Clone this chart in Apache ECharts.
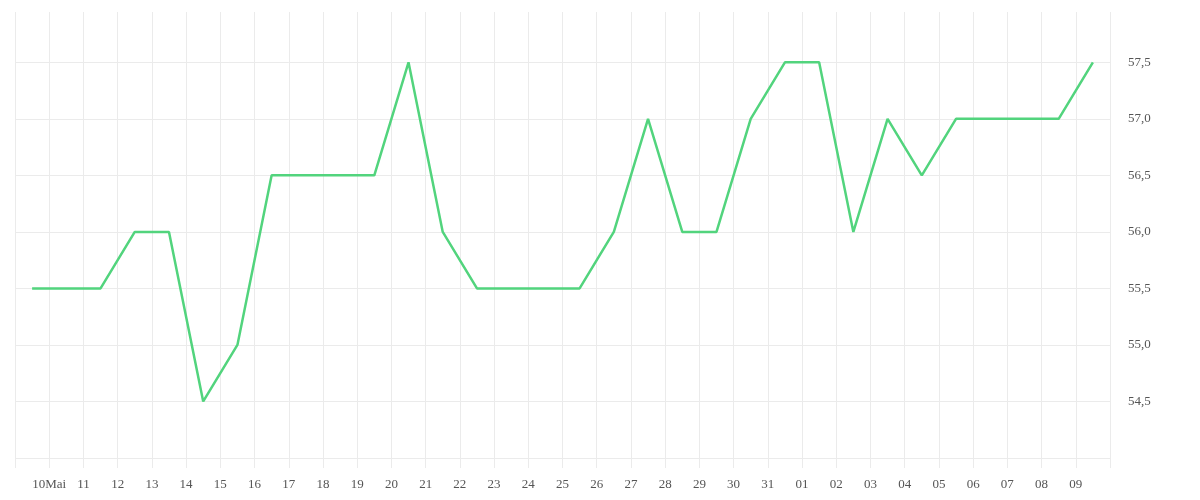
<!DOCTYPE html>
<html>
<head>
<meta charset="utf-8">
<script src="https://cdn.jsdelivr.net/npm/echarts@6/dist/echarts.min.js"></script>
<style>html,body{margin:0;padding:0;background:#fff}#c{width:1200px;height:500px}</style>
</head>
<body>
<div id="c"></div>
<script>
// Tick labels at day boundaries (09 Mai ... 10 Jun); first and last unlabeled
const tickLabels = ["", "10Mai", "11", "12", "13", "14", "15", "16", "17", "18", "19", "20", "21", "22", "23", "24", "25", "26", "27", "28", "29", "30", "31", "01", "02", "03", "04", "05", "06", "07", "08", "09", ""];
// One value per day, plotted at mid-day (09 Mai ... 09 Jun)
const values = [55.5, 55.5, 55.5, 56.0, 56.0, 54.5, 55.0, 56.5, 56.5, 56.5, 56.5, 57.5, 56.0, 55.5, 55.5, 55.5, 55.5, 56.0, 57.0, 56.0, 56.0, 57.0, 57.5, 57.5, 56.0, 57.0, 56.5, 57.0, 57.0, 57.0, 57.0, 57.5];
const yMin = 54.0;
const yMax = 57.945;

const seriesData = values.map((v, i) => [i + 0.5, v]);
const gridColor = '#ebebeb';
const chart = echarts.init(document.getElementById('c'), null, {renderer: 'canvas'});
chart.setOption({
  animation: false,
  backgroundColor: '#fff',
  grid: {left: 15, right: 90, top: 12, bottom: 42, containLabel: false},
  xAxis: {
    type: 'value', min: 0, max: tickLabels.length - 1, interval: 1,
    axisLine: {show: false},
    axisTick: {show: true, length: 10, lineStyle: {color: gridColor}},
    splitLine: {show: true, lineStyle: {color: gridColor, width: 1}},
    axisLabel: {
      showMinLabel: true, showMaxLabel: true,
      formatter: v => tickLabels[Math.round(v)] || '',
      color: '#555', fontFamily: 'Liberation Serif', fontSize: 13, margin: 20
    }
  },
  yAxis: {
    type: 'value', position: 'right', min: yMin, max: yMax, interval: 0.5,
    axisLine: {show: false},
    axisTick: {show: false},
    splitLine: {show: true, showMaxLine: false, lineStyle: {color: gridColor, width: 1}},
    axisLabel: {
      showMinLabel: false, showMaxLabel: false,
      formatter: v => (Math.abs(v * 2 - Math.round(v * 2)) < 1e-6) ? v.toFixed(1).replace('.', ',') : '',
      color: '#555', fontFamily: 'Liberation Serif', fontSize: 13, margin: 18, align: 'left',
      padding: [4, 0, 0, 0]
    }
  },
  series: [{
    type: 'line', data: seriesData, showSymbol: false, symbol: 'none',
    lineStyle: {color: '#52d47d', width: 2.5}, itemStyle: {color: '#52d47d'}
  }]
});
</script>
</body>
</html>
